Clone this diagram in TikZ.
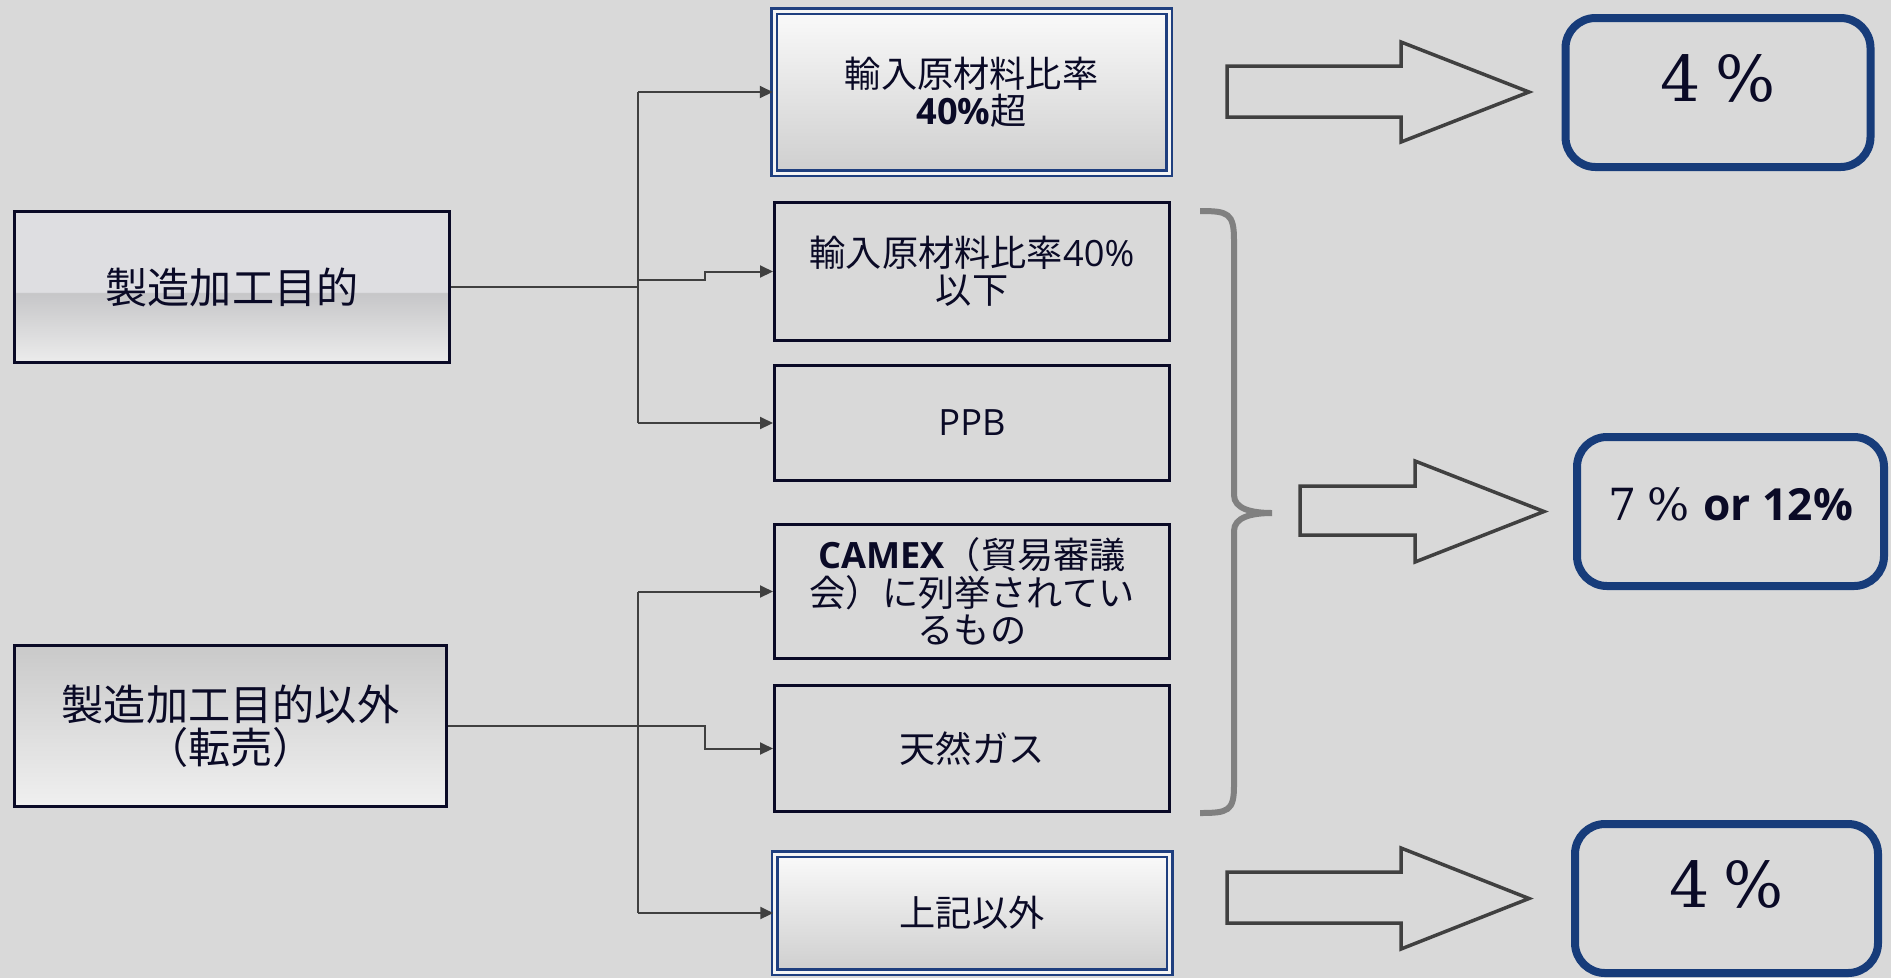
\documentclass[tikz,border=0pt]{standalone}
\usepackage{fontspec}
\newfontfamily\jp{Noto Sans CJK JP}
\newfontfamily\lat{Open Sans}
\newfontfamily\num{DejaVu Serif}
\usetikzlibrary{arrows.meta}
\definecolor{bg}{HTML}{D9D9D9}
\definecolor{ink}{HTML}{0A0A26}
\definecolor{navy}{HTML}{1F3F7F}
\definecolor{rnavy}{HTML}{173C7A}
\definecolor{wire}{HTML}{404040}
\definecolor{brk}{HTML}{808080}
\definecolor{ptop}{HTML}{DEDEE1}
\definecolor{pband}{HTML}{C6C6C8}
\definecolor{pbot}{HTML}{ECECEC}
\pgfdeclareverticalshading{bandshade}{100bp}{color(0bp)=(pbot); color(25bp)=(pbot); color(48bp)=(pband); color(48.4bp)=(ptop); color(75bp)=(ptop); color(100bp)=(ptop)}
\begin{document}
\begin{tikzpicture}[
    box/.style={draw=ink, line width=0.03cm, text=ink, align=center, minimum width=3.95cm, inner sep=0pt, font=\jp\fontsize{10.3}{10.6}\selectfont},
    dbox/.style={box, draw=navy, line width=0.025cm, double=white!92!gray, double distance=0.03cm, top color=black!2, bottom color=black!19},
    src/.style={draw=ink, line width=0.03cm, text=ink, align=center, minimum width=4.35cm, inner sep=0pt, font=\jp\fontsize{12}{12.2}\selectfont},
    rate/.style={draw=rnavy, line width=0.08cm, rounded corners=0.3cm, text=ink, minimum width=3.05cm, minimum height=1.49cm, text height=0.52cm, text depth=0.34cm, font=\num\fontsize{18}{18}\selectfont},
    link/.style={draw=wire, line width=0.02cm},
    tip/.style={link, -{Triangle[length=0.13cm,width=0.12cm]}},
    fat/.style={draw=wire, line width=0.035cm, line join=miter},
    brace/.style={draw=brk, line width=0.06cm}
  ]
  \useasboundingbox (0,0) rectangle (18.91,-9.78);
  \fill[bg] (0,0) rectangle (18.91,-9.78);

  % left side
  \node[src, shading=bandshade, minimum height=1.51cm] (purp) at (2.32,-2.87) {製造加工目的};
  \node[src, top color=black!21, bottom color=black!6, minimum width=4.32cm, minimum height=1.61cm] (resale) at (2.305,-7.26) {製造加工目的以外\\（転売）};

  % middle column
  \node[dbox, minimum height=1.62cm] (over) at (9.715,-0.92) {輸入原材料比率\\{\lat\bfseries 40\%}超};
  \node[box, minimum height=1.38cm] (under) at (9.72,-2.715) {輸入原材料比率{\lat 40\%}\\以下};
  \node[box, minimum height=1.15cm] (ppb) at (9.72,-4.23) {\lat PPB};
  \node[box, minimum height=1.34cm] (camex) at (9.72,-5.915) {{\lat\bfseries CAMEX}（貿易審議\\会）に列挙されてい\\るもの};
  \node[box, minimum height=1.26cm] (gas) at (9.72,-7.485) {天然ガス};
  \node[dbox, minimum height=1.18cm] (other) at (9.72,-9.13) {上記以外};

  % rates
  \node[rate] (r1) at (17.18,-0.925) {4\hspace{0.22em}\%};
  \node[rate, minimum width=3.07cm, font=\num\fontsize{12.6}{13}\selectfont] (r2) at (17.305,-5.115) {7\hspace{0.25em}\% {\lat\bfseries or 12\%}};
  \node[rate, minimum width=3.03cm] (r3) at (17.265,-8.985) {4\hspace{0.22em}\%};

  % connectors
  \coordinate (tr) at (6.38,0);
  \coordinate (j) at (7.05,-2.80);
  \draw[link] (purp.east) -- (purp.east -| tr);
  \draw[link] (over.west -| tr) -- (ppb.west -| tr);
  \draw[tip] (over.west -| tr) -- (over.west);
  \draw[tip] (j -| tr) -- (j) |- (under.west);
  \draw[tip] (ppb.west -| tr) -- (ppb.west);
  \draw[link] (camex.west -| tr) -- (other.west -| tr);
  \draw[tip] (camex.west -| tr) -- (camex.west);
  \draw[tip] (other.west -| tr) -- (other.west);
  \draw[tip] (resale.east) -| (j |- gas.west) -- (gas.west);

  % bracket
  \draw[brace] (12.00,-2.11) .. controls (12.28,-2.11) and (12.34,-2.13) .. (12.34,-2.40) -- (12.34,-4.95) .. controls (12.34,-5.09) and (12.52,-5.13) .. (12.72,-5.13) .. controls (12.52,-5.13) and (12.34,-5.17) .. (12.34,-5.31) -- (12.34,-7.86) .. controls (12.34,-8.11) and (12.28,-8.13) .. (12.00,-8.13);

  % block arrows
  \draw[fat] (12.27,-0.66) -- (14.01,-0.66) -- (14.01,-0.42) -- (15.29,-0.92) -- (14.01,-1.42) -- (14.01,-1.17) -- (12.27,-1.17) -- cycle;
  \draw[fat] (13.00,-4.86) -- (14.15,-4.86) -- (14.15,-4.61) -- (15.44,-5.115) -- (14.15,-5.62) -- (14.15,-5.35) -- (13.00,-5.35) -- cycle;
  \draw[fat] (12.27,-8.72) -- (14.01,-8.72) -- (14.01,-8.48) -- (15.29,-8.985) -- (14.01,-9.49) -- (14.01,-9.23) -- (12.27,-9.23) -- cycle;
\end{tikzpicture}
\end{document}
